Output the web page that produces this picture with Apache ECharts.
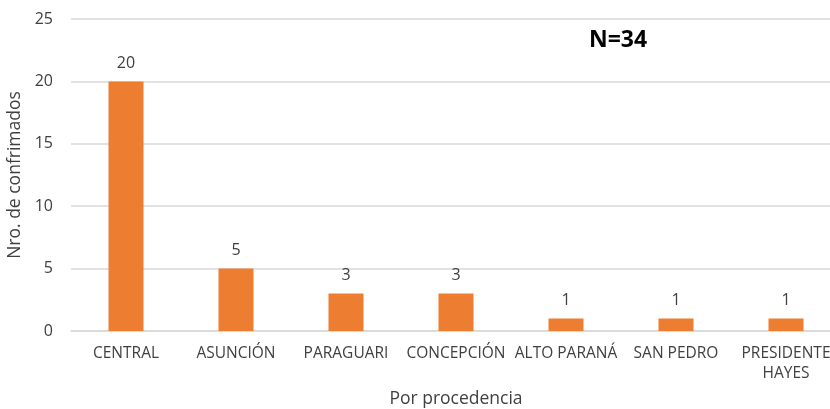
<!DOCTYPE html>
<html>
<head>
<meta charset="utf-8">
<script src="https://cdn.jsdelivr.net/npm/echarts@6/dist/echarts.min.js"></script>
<style>
  html, body { margin: 0; padding: 0; background: #fff; }
  #chart { width: 830px; height: 409px; }
</style>
</head>
<body>
<div id="chart"></div>
<script>
var categories = ['CENTRAL', 'ASUNCIÓN', 'PARAGUARI', 'CONCEPCIÓN', 'ALTO PARANÁ', 'SAN PEDRO', 'PRESIDENTE\nHAYES'];
var confirmados = [20, 5, 3, 3, 1, 1, 1];
var yTicks = { min: 0, max: 25, interval: 5 };

var chart = echarts.init(document.getElementById('chart'));
var font = '"Open Sans", "Noto Sans", sans-serif';

var option = {
    animation: false,
    textStyle: { fontFamily: font },
    graphic: [{
        type: 'text',
        left: 589,
        top: 29,
        style: { text: 'N=34', font: 'bold 23px ' + font, fill: '#000' }
    }],
    grid: {
        left: 71,
        top: 19,
        width: 770,
        height: 312,
        outerBoundsMode: 'none'
    },
    xAxis: {
        type: 'category',
        data: categories,
        name: 'Por procedencia',
        nameLocation: 'middle',
        nameGap: 59,
        nameTextStyle: { color: '#404040', fontSize: 17.5, fontFamily: font },
        axisLine: { lineStyle: { color: '#d9d9d9', width: 1.5 } },
        axisTick: { show: false },
        axisLabel: { color: '#404040', fontSize: 15.5, margin: 13, interval: 0, lineHeight: 20, fontFamily: font }
    },
    yAxis: {
        type: 'value',
        min: yTicks.min,
        max: yTicks.max,
        interval: yTicks.interval,
        name: 'Nro. de confrimados',
        nameLocation: 'middle',
        nameGap: 45,
        nameTextStyle: { color: '#404040', fontSize: 17.5, fontFamily: font },
        axisLine: { show: false },
        axisTick: { show: false },
        axisLabel: { color: '#404040', fontSize: 16, margin: 18, fontFamily: font },
        splitLine: { lineStyle: { color: '#d9d9d9', width: 1.5 } }
    },
    series: [{
        type: 'bar',
        data: confirmados,
        barWidth: 35,
        itemStyle: { color: '#ED7D31' },
        label: {
            show: true,
            position: 'top',
            distance: 10,
            color: '#404040',
            fontSize: 16,
            fontFamily: font
        }
    }]
};

chart.setOption(option);
</script>
</body>
</html>
